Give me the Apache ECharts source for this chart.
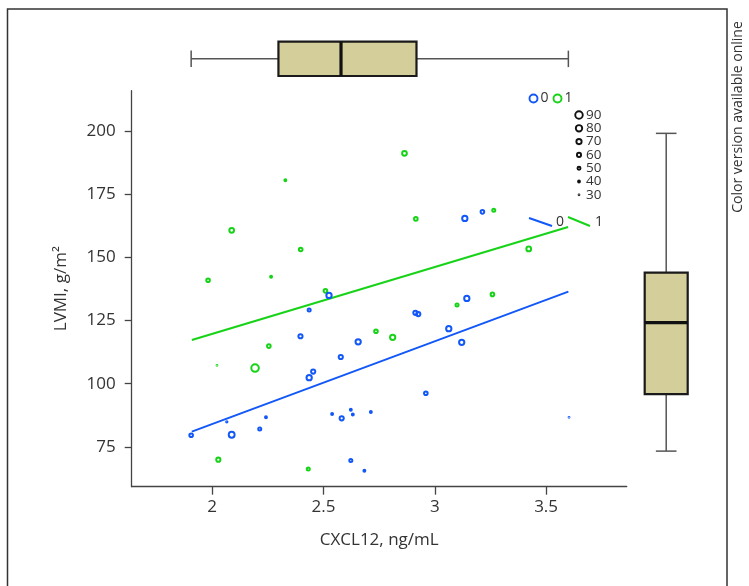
<!DOCTYPE html>
<html>
<head>
<meta charset="utf-8">
<script src="https://cdn.jsdelivr.net/npm/echarts@6/dist/echarts.min.js"></script>
<style>
  html, body { margin: 0; padding: 0; background: #fff; }
  #chart { width: 749px; height: 586px; }
</style>
</head>
<body>
<div id="chart"></div>
<script>
// group 1 (green) points: [CXCL12, LVMI, size]
var greenPts = [
  [2.329, 180.6, 40], [2.088, 160.8, 65], [2.398, 153.2, 55], [1.982, 141.0, 55],
  [2.265, 142.4, 40], [2.509, 136.8, 55], [2.864, 191.3, 65], [2.915, 165.3, 55],
  [3.265, 168.7, 50], [3.422, 153.4, 65], [3.259, 135.4, 55], [3.100, 131.2, 50],
  [2.255, 114.9, 55], [2.022, 107.3, 30], [2.193, 106.2, 90], [2.028, 69.9, 60],
  [2.432, 66.2, 50], [2.736, 120.8, 55], [2.811, 118.4, 70]
];
// group 0 (blue) points
var bluePts = [
  [2.525, 135.0, 70], [3.135, 165.5, 70], [3.214, 168.1, 55], [3.144, 133.8, 70],
  [2.436, 129.2, 50], [2.397, 118.8, 60], [2.656, 116.6, 70], [2.578, 110.6, 60],
  [2.454, 104.8, 60], [2.436, 102.4, 70], [2.066, 84.9, 35], [1.906, 79.6, 55],
  [2.088, 79.8, 75], [2.214, 82.1, 50], [2.242, 86.7, 40], [2.539, 88.0, 40],
  [2.623, 89.7, 40], [2.632, 87.8, 40], [2.582, 86.3, 60], [2.623, 69.6, 50],
  [2.684, 65.5, 40], [2.713, 88.8, 40], [2.913, 128.1, 60], [2.926, 127.6, 60],
  [3.063, 121.8, 70], [3.121, 116.4, 70], [2.960, 96.2, 55], [3.603, 86.7, 30]
];
// fitted lines (endpoints)
var greenFit = [[1.909, 117.3], [3.599, 162.1]];
var blueFit = [[1.909, 81.0], [3.600, 136.5]];
// box plots: [min, q1, median, q3, max]
var xBox = [1.906, 2.298, 2.579, 2.918, 3.600];
var yBox = [73.3, 95.9, 124.2, 144.0, 199.2];
var xTicks = [2, 2.5, 3, 3.5];
var yTicks = [75, 100, 125, 150, 175, 200];
var sizeLegend = [90, 80, 70, 60, 50, 40, 30];
var groupNames = ['0', '1'];

var BLUE = '#1257f7', GREEN = '#17d317', BOXFILL = '#d4cf9a';
var FONT = 'Open Sans';

function sizePx(v) { return 0.8 + (v - 30) * 0.112; }

var chart = echarts.init(document.getElementById('chart'));

function boxRender(horizontal) {
  return function (params, api) {
    var v = [api.value(0), api.value(1), api.value(2), api.value(3), api.value(4)];
    function pt(val, t) { return horizontal ? api.coord([val, t]) : api.coord([t, val]); }
    var wStyle = { stroke: '#555', lineWidth: 1.5 };
    var a = pt(v[1], 0), b = pt(v[3], 1);
    var rect = {
      x: Math.min(a[0], b[0]), y: Math.min(a[1], b[1]),
      width: Math.abs(b[0] - a[0]), height: Math.abs(b[1] - a[1])
    };
    function seg(p1, p2, style) {
      return { type: 'line', shape: { x1: p1[0], y1: p1[1], x2: p2[0], y2: p2[1] }, style: style };
    }
    return {
      type: 'group',
      children: [
        seg(pt(v[0], 0.5), pt(v[1], 0.5), wStyle),
        seg(pt(v[3], 0.5), pt(v[4], 0.5), wStyle),
        seg(pt(v[0], 0.26), pt(v[0], 0.74), wStyle),
        seg(pt(v[4], 0.26), pt(v[4], 0.74), wStyle),
        { type: 'rect', shape: rect, style: { fill: BOXFILL, stroke: '#1a1a1a', lineWidth: 2.2 } },
        seg(pt(v[2], 0), pt(v[2], 1), { stroke: '#111', lineWidth: 3.2 })
      ]
    };
  };
}

var legendEls = [];
// group legend
legendEls.push({ type: 'circle', shape: { cx: 533.5, cy: 98.5, r: 4 }, style: { fill: 'none', stroke: BLUE, lineWidth: 1.9 } });
legendEls.push({ type: 'text', x: 540.5, y: 98.5, style: { text: groupNames[0], font: '14px ' + FONT, fill: '#333', verticalAlign: 'middle' } });
legendEls.push({ type: 'circle', shape: { cx: 557.5, cy: 98.5, r: 4 }, style: { fill: 'none', stroke: GREEN, lineWidth: 1.9 } });
legendEls.push({ type: 'text', x: 564.5, y: 98.5, style: { text: groupNames[1], font: '14px ' + FONT, fill: '#333', verticalAlign: 'middle' } });
// size legend
sizeLegend.forEach(function (s, i) {
  var cy = 115 + i * 13.3;
  legendEls.push({ type: 'circle', shape: { cx: 579, cy: cy, r: sizePx(s) / 2 }, style: { fill: 'none', stroke: '#111', lineWidth: 1.9 } });
  legendEls.push({ type: 'text', x: 586, y: cy, style: { text: String(s), font: '13.5px ' + FONT, fill: '#333', verticalAlign: 'middle' } });
});
// fit line legend
legendEls.push({ type: 'line', shape: { x1: 529, y1: 218, x2: 552, y2: 226 }, style: { stroke: BLUE, lineWidth: 1.9 } });
legendEls.push({ type: 'text', x: 556, y: 222, style: { text: groupNames[0], font: '14px ' + FONT, fill: '#333', verticalAlign: 'middle' } });
legendEls.push({ type: 'line', shape: { x1: 568, y1: 217, x2: 590, y2: 226 }, style: { stroke: GREEN, lineWidth: 1.9 } });
legendEls.push({ type: 'text', x: 595, y: 222, style: { text: groupNames[1], font: '14px ' + FONT, fill: '#333', verticalAlign: 'middle' } });

chart.setOption({
  animation: false,
  backgroundColor: '#fff',
  grid: [
    { left: 131.7, top: 90.7, width: 495, height: 396 },
    { left: 131.7, top: 41.7, width: 495, height: 34.3 },
    { left: 644.7, top: 90.7, width: 43, height: 396 }
  ],
  xAxis: [
    {
      type: 'value', gridIndex: 0, min: 1.639, max: 3.862,
      name: 'CXCL12, ng/mL', nameLocation: 'middle', nameGap: 45,
      nameTextStyle: { fontFamily: FONT, fontSize: 17, color: '#333' },
      axisLine: { show: true, onZero: false, lineStyle: { color: '#444', width: 1.3 } },
      axisTick: { show: true, length: 8, customValues: xTicks, lineStyle: { color: '#444', width: 1.3 } },
      axisLabel: { customValues: xTicks, margin: 12, fontFamily: FONT, fontSize: 17, color: '#333' },
      splitLine: { show: false }
    },
    { type: 'value', gridIndex: 1, min: 1.639, max: 3.862, show: false },
    { type: 'value', gridIndex: 2, min: 0, max: 1, show: false }
  ],
  yAxis: [
    {
      type: 'value', gridIndex: 0, min: 59.2, max: 216.1,
      name: 'LVMI, g/m²', nameLocation: 'middle', nameGap: 62, nameRotate: 90,
      nameTextStyle: { fontFamily: FONT, fontSize: 17, color: '#333' },
      axisLine: { show: true, onZero: false, lineStyle: { color: '#444', width: 1.3 } },
      axisTick: { show: true, length: 7, customValues: yTicks, lineStyle: { color: '#444', width: 1.3 } },
      axisLabel: { customValues: yTicks, margin: 16, fontFamily: FONT, fontSize: 17, color: '#333' },
      splitLine: { show: false }
    },
    { type: 'value', gridIndex: 1, min: 0, max: 1, show: false },
    { type: 'value', gridIndex: 2, min: 59.2, max: 216.1, show: false }
  ],
  graphic: [
    { type: 'rect', shape: { x: 7.5, y: 9, width: 719.5, height: 600 }, style: { fill: 'none', stroke: '#333', lineWidth: 1.5 }, silent: true },
    { type: 'text', x: 738, y: 117, rotation: Math.PI / 2, style: { text: 'Color version available online', font: '14px ' + FONT, fill: '#333', align: 'center', verticalAlign: 'middle' } }
  ].concat(legendEls),
  series: [
    {
      type: 'line', xAxisIndex: 0, yAxisIndex: 0, data: greenFit, showSymbol: false,
      lineStyle: { color: GREEN, width: 2 }, z: 2
    },
    {
      type: 'line', xAxisIndex: 0, yAxisIndex: 0, data: blueFit, showSymbol: false,
      lineStyle: { color: BLUE, width: 2 }, z: 2
    },
    {
      name: groupNames[1], type: 'scatter', xAxisIndex: 0, yAxisIndex: 0, data: greenPts,
      symbol: 'circle', symbolSize: function (d) { return sizePx(d[2]); },
      itemStyle: { color: 'rgba(0,0,0,0)', borderColor: GREEN, borderWidth: 2, opacity: 1 }, z: 3
    },
    {
      name: groupNames[0], type: 'scatter', xAxisIndex: 0, yAxisIndex: 0, data: bluePts,
      symbol: 'circle', symbolSize: function (d) { return sizePx(d[2]); },
      itemStyle: { color: 'rgba(0,0,0,0)', borderColor: BLUE, borderWidth: 2, opacity: 1 }, z: 3
    },
    {
      type: 'custom', xAxisIndex: 1, yAxisIndex: 1, data: [xBox],
      renderItem: boxRender(true)
    },
    {
      type: 'custom', xAxisIndex: 2, yAxisIndex: 2, data: [yBox],
      renderItem: boxRender(false)
    }
  ]
});
</script>
</body>
</html>
